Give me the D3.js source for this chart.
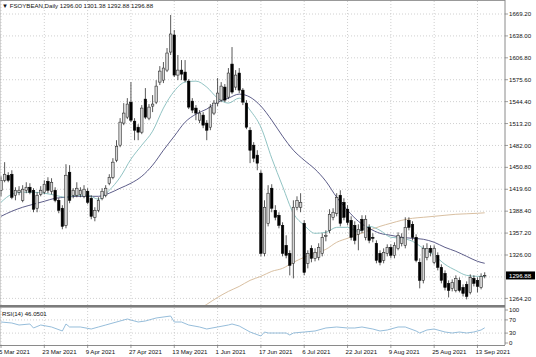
<!DOCTYPE html>
<html><head><meta charset="utf-8">
<script src="https://cdn.jsdelivr.net/npm/d3@7"></script>
<style>html,body{margin:0;padding:0;background:#fff;overflow:hidden}</style>
</head><body><svg id="c" width="536" height="357"></svg>
<script>
// ---------- DATA ----------
const symbol = "FSOYBEAN,Daily";
const lastOHLC = [1296.00, 1301.38, 1292.88, 1296.88];
const opens = [1418.2,1432.4,1439.6,1441.0,1411.1,1415.4,1403.9,1418.2,1422.5,1418.2,
1392.6,1412.5,1415.4,1431.0,1416.8,1418.2,1403.9,1392.6,1368.3,1443.9,
1411.1,1411.1,1412.5,1409.6,1416.8,1406.8,1379.7,1389.7,1406.8,1411.1,
1428.2,1436.7,1461.0,1482.4,1513.8,1522.3,1543.7,1516.6,1508.0,1500.9,
1548.0,1520.9,1538.0,1543.7,1572.2,1575.0,1589.3,1615.0,1639.3,1582.2,
1589.3,1586.5,1573.6,1545.1,1535.2,1518.0,1525.2,1513.8,1508.0,1528.1,
1542.3,1546.6,1565.1,1550.8,1597.9,1565.1,1585.1,1560.8,1542.3,1503.7,
1482.4,1468.2,1442.5,1328.4,1371.2,1421.1,1389.7,1382.6,1368.3,1339.8,
1328.4,1314.2,1394.0,1394.0,1371.2,1314.2,1335.5,1321.3,1322.7,1328.4,
1352.6,1361.1,1379.7,1385.4,1411.1,1401.1,1391.2,1375.4,1368.3,1355.5,
1376.9,1351.2,1365.4,1351.2,1342.7,1328.4,1318.4,1328.4,1336.9,1325.6,
1335.5,1342.7,1339.8,1375.4,1369.7,1351.2,1315.6,1289.9,1322.7,1335.5,
1315.6,1325.6,1308.4,1299.9,1285.6,1278.5,1275.6,1289.9,1279.9,1284.2,
1272.8,1292.7,1289.9,1279.9,1296.00];
const highs = [1438.1,1458.2,1443.9,1446.7,1422.5,1424.0,1425.4,1429.6,1428.2,1421.1,
1415.4,1424.0,1432.4,1436.7,1435.3,1422.5,1406.8,1396.9,1455.3,1453.9,
1421.1,1429.6,1422.5,1425.4,1421.1,1411.1,1394.0,1408.2,1421.1,1425.4,
1441.0,1463.9,1489.5,1520.9,1542.3,1549.4,1572.2,1520.9,1512.3,1539.5,
1563.7,1540.9,1553.7,1575.0,1595.0,1600.8,1620.7,1667.8,1646.4,1610.8,
1603.6,1603.6,1576.5,1549.4,1539.5,1532.3,1529.5,1518.0,1540.9,1546.6,
1577.9,1572.2,1569.4,1592.2,1622.1,1589.3,1592.2,1563.7,1546.6,1508.0,
1486.7,1475.2,1446.7,1403.9,1425.4,1426.8,1396.9,1386.9,1372.6,1354.1,
1332.7,1403.9,1409.6,1414.0,1375.4,1332.7,1339.8,1335.5,1342.7,1356.9,
1361.1,1391.2,1392.6,1414.0,1418.2,1406.8,1396.9,1381.1,1374.0,1369.7,
1382.6,1382.6,1369.7,1356.9,1346.9,1332.7,1335.5,1341.2,1341.2,1344.1,
1358.3,1356.9,1379.7,1379.7,1374.0,1355.5,1321.3,1339.8,1342.7,1339.8,
1339.8,1329.8,1312.7,1304.1,1289.9,1291.3,1297.0,1294.1,1284.2,1288.4,
1298.4,1297.0,1294.1,1299.9,1301.38];
const lows = [1409.6,1429.6,1429.6,1405.4,1403.9,1411.1,1401.1,1414.0,1412.5,1386.9,
1386.9,1409.6,1412.5,1414.0,1412.5,1401.1,1385.5,1362.6,1364.0,1399.7,
1406.8,1408.2,1408.2,1406.8,1398.3,1376.9,1374.0,1386.9,1403.9,1408.2,
1425.4,1433.9,1458.2,1479.5,1510.9,1519.5,1515.2,1489.5,1489.5,1498.1,
1519.5,1518.0,1529.5,1540.9,1568.0,1570.8,1586.5,1610.8,1579.4,1575.0,
1575.0,1572.2,1533.8,1528.1,1518.0,1513.8,1506.6,1489.5,1503.7,1525.2,
1538.0,1543.7,1543.7,1548.0,1555.1,1560.8,1556.6,1539.5,1505.2,1456.8,
1458.2,1446.7,1324.1,1324.1,1366.8,1386.9,1375.4,1364.0,1324.1,1321.3,
1297.0,1292.7,1389.7,1386.9,1297.0,1307.0,1315.6,1317.0,1318.4,1324.1,
1345.5,1356.9,1375.4,1381.1,1366.8,1375.4,1368.3,1346.9,1341.2,1332.7,
1356.9,1346.9,1342.7,1344.1,1314.2,1311.3,1314.2,1324.1,1321.3,1321.3,
1332.7,1338.3,1335.5,1361.1,1346.9,1315.6,1278.5,1285.6,1318.4,1324.1,
1312.7,1304.1,1285.6,1275.6,1265.6,1274.2,1272.8,1272.8,1267.0,1262.8,
1269.9,1281.3,1272.8,1277.1,1292.88];
const closes = [1432.4,1441.0,1432.4,1408.2,1418.2,1418.2,1419.7,1422.5,1415.4,1391.2,
1411.1,1418.2,1426.8,1418.2,1429.6,1403.9,1389.7,1366.8,1439.6,1403.9,
1418.2,1421.1,1418.2,1419.7,1401.1,1381.1,1389.7,1403.9,1416.8,1421.1,
1436.7,1458.2,1480.9,1515.2,1528.1,1540.9,1518.0,1503.7,1500.9,1535.2,
1522.3,1536.6,1540.9,1566.5,1587.9,1592.2,1613.6,1640.7,1582.2,1589.3,
1583.6,1575.0,1536.6,1532.3,1528.1,1528.1,1510.9,1503.7,1536.6,1542.3,
1556.6,1566.5,1546.6,1585.1,1558.0,1582.2,1560.8,1543.7,1508.0,1475.2,
1463.9,1456.8,1328.4,1394.0,1414.0,1392.6,1379.7,1368.3,1328.4,1325.6,
1311.3,1394.0,1403.9,1401.1,1301.3,1328.4,1321.3,1329.8,1336.9,1351.2,
1354.1,1384.0,1386.9,1408.2,1371.2,1379.7,1372.6,1351.2,1346.9,1362.6,
1361.1,1376.9,1346.9,1349.8,1318.4,1315.6,1329.8,1336.9,1325.6,1339.8,
1354.1,1351.2,1365.4,1365.4,1351.2,1318.4,1289.9,1335.5,1335.5,1329.8,
1335.5,1308.4,1289.9,1279.9,1275.6,1287.0,1292.7,1275.6,1271.4,1267.0,
1294.1,1285.6,1281.3,1295.5,1296.88];

const dateTickIdx = [0,12,24,36,48,60,72,84,96,108,120,132];
const dateTickLabels = ["5 Mar 2021","23 Mar 2021","9 Apr 2021","27 Apr 2021","13 May 2021","1 Jun 2021",
  "17 Jun 2021","6 Jul 2021","22 Jul 2021","9 Aug 2021","25 Aug 2021","13 Sep 2021"];
const priceTicks = [1669.20,1638.00,1606.80,1575.60,1544.40,1513.20,1482.00,1450.80,1419.60,1388.40,1357.20,1326.00,1264.20];
const rsiTicks = [100,70,30,0];
const rsiLevels = [70,30];

const maIdx = [0,3,6,9,12,15,18,21,24,27,30,33,36,39,42,45,48,51,54,57,60,63,66,69,72,75,78,81,84,87,90,93,96,99,102,105,108,111,114,117,120,123,126,129,132,134];
const maFast = [1401.1,1412.5,1415.4,1415.4,1414.0,1411.1,1408.2,1411.1,1411.1,1405.4,1418.2,1436.7,1462.5,1482.4,1502.3,1535.2,1559.4,1572.2,1573.6,1565.1,1549.4,1542.3,1549.4,1532.3,1508.0,1463.9,1424.0,1385.4,1368.3,1356.9,1358.3,1365.4,1365.4,1359.7,1366.8,1361.1,1351.2,1349.8,1345.5,1335.5,1325.6,1312.7,1304.1,1297.0,1295.6,1295.6];
const maSlow = [1381.1,1388.3,1394.0,1398.3,1402.5,1406.8,1408.2,1409.6,1409.6,1409.6,1414.0,1421.1,1428.2,1438.1,1453.9,1475.2,1495.2,1515.2,1526.6,1533.8,1543.7,1549.4,1555.1,1550.8,1538.0,1518.0,1495.2,1475.2,1461.0,1448.2,1431.0,1408.2,1389.7,1374.0,1364.0,1356.9,1354.1,1351.2,1349.8,1348.4,1344.1,1336.9,1331.2,1324.1,1317.0,1314.2];
const maLongIdx = [54,57,60,63,66,69,72,75,78,81,84,87,90,93,96,99,102,105,108,111,114,117,120,123,126,129,132,134];
const maLong = [1245.7,1255.7,1265.6,1274.2,1281.3,1289.9,1295.6,1302.7,1307.0,1315.6,1322.7,1328.4,1334.1,1344.1,1349.8,1355.5,1361.1,1366.8,1371.2,1375.4,1378.3,1379.7,1381.1,1382.6,1384.0,1384.7,1385.4,1386.1];

const rsiIdx = [0,3,5,8,9,11,14,17,18,19,22,25,27,29,33,35,38,40,43,47,48,50,52,55,57,60,63,64,66,69,72,73,74,76,79,80,81,84,87,90,93,96,98,100,103,105,107,110,112,115,116,118,120,123,125,127,129,131,133,134];
const rsiVals = [63.6,60.6,54.5,57.6,45.5,54.5,48.5,36.4,57.6,48.5,48.5,42.4,48.5,54.5,66.7,72.7,63.6,66.7,75.8,81.8,63.6,63.6,54.5,48.5,42.4,48.5,54.5,57.6,51.5,33.3,21.2,33.3,30.3,30.3,30.3,24.2,30.3,33.3,36.4,45.5,48.5,45.5,45.5,48.5,42.4,36.4,39.4,48.5,48.5,36.4,30.3,39.4,42.4,33.3,30.3,33.3,30.3,33.3,39.4,46.05];
const rsiLast = "46.0501";

// ---------- LAYOUT ----------
const svg = d3.select("#c");
const FONT = "Liberation Sans, Arial, sans-serif";
const axisX = 505, mainTop = 1, mainBot = 305, rsiTop = 308, rsiBot = 345;
const n = closes.length;

const x = d3.scaleLinear().domain([0, 134]).range([1, 484.7]);
const y = d3.scaleLinear().domain([1264.2, 1669.2]).range([298.4, 14]);
const yr = d3.scaleLinear().domain([0, 100]).range([343, 310]);

svg.append("rect").attr("width",536).attr("height",357).attr("fill","#fff");

const defs = svg.append("defs");
defs.append("clipPath").attr("id","mainClip").append("rect")
  .attr("x",0).attr("y",mainTop).attr("width",axisX).attr("height",mainBot-mainTop);
defs.append("clipPath").attr("id","rsiClip").append("rect")
  .attr("x",0).attr("y",rsiTop).attr("width",axisX).attr("height",rsiBot-rsiTop);

const gridColor = "#c4c4c4";
// vertical grid
const gGrid = svg.append("g");
dateTickIdx.forEach(i => {
  [[mainTop, mainBot],[rsiTop, rsiBot]].forEach(([a,b]) => {
    gGrid.append("line").attr("x1",x(i)).attr("x2",x(i)).attr("y1",a).attr("y2",b)
      .attr("stroke",gridColor).attr("stroke-width",0.8).attr("stroke-dasharray","1,2");
  });
});
// horizontal grid main
priceTicks.concat([1294.80]).forEach(p => {
  gGrid.append("line").attr("x1",0).attr("x2",axisX).attr("y1",y(p)).attr("y2",y(p))
    .attr("stroke",gridColor).attr("stroke-width",0.8).attr("stroke-dasharray","1,2");
});
rsiLevels.forEach(v => {
  gGrid.append("line").attr("x1",0).attr("x2",axisX).attr("y1",yr(v)).attr("y2",yr(v))
    .attr("stroke",gridColor).attr("stroke-width",0.8).attr("stroke-dasharray","1,2");
});

// moving averages
const gMain = svg.append("g").attr("clip-path","url(#mainClip)");
const line = d3.line().x(d=>x(d[0])).y(d=>y(d[1])).curve(d3.curveMonotoneX);
gMain.append("path").datum(maLongIdx.map((i,k)=>[i,maLong[k]])).attr("d",line)
  .attr("fill","none").attr("stroke","#d4b896").attr("stroke-width",0.9);
gMain.append("path").datum(maIdx.map((i,k)=>[i,maSlow[k]])).attr("d",line)
  .attr("fill","none").attr("stroke","#4b4b7c").attr("stroke-width",0.9);
gMain.append("path").datum(maIdx.map((i,k)=>[i,maFast[k]])).attr("d",line)
  .attr("fill","none").attr("stroke","#84bcbc").attr("stroke-width",0.9);

// candles
const bw = 2.5;
const bars = d3.range(n).map(i => ({i, o:opens[i], h:highs[i], l:lows[i], c:closes[i]}));
const gC = gMain.append("g");
gC.selectAll("line.w").data(bars).join("line")
  .attr("x1",d=>x(d.i)).attr("x2",d=>x(d.i)).attr("y1",d=>y(d.h)).attr("y2",d=>y(d.l))
  .attr("stroke","#111").attr("stroke-width",0.7);
gC.selectAll("rect.b").data(bars).join("rect")
  .attr("x",d=>x(d.i)-bw/2).attr("width",bw)
  .attr("y",d=>y(Math.max(d.o,d.c)))
  .attr("height",d=>Math.max(0.6, Math.abs(y(d.o)-y(d.c))))
  .attr("fill",d=> d.c>=d.o ? "#d6d6d6" : "#000")
  .attr("stroke",d=> d.c>=d.o ? "#222" : "#000").attr("stroke-width",0.55);

// RSI
const gR = svg.append("g").attr("clip-path","url(#rsiClip)");
const rline = d3.line().x(d=>x(d[0])).y(d=>yr(d[1]));
gR.append("path").datum(rsiIdx.map((i,k)=>[i,rsiVals[k]])).attr("d",rline)
  .attr("fill","none").attr("stroke","#8ab6d6").attr("stroke-width",0.9);

// frames
svg.append("line").attr("x1",0).attr("x2",axisX).attr("y1",0.5).attr("y2",0.5).attr("stroke","#999").attr("stroke-width",1);
svg.append("line").attr("x1",0.3).attr("x2",0.3).attr("y1",0).attr("y2",rsiBot).attr("stroke","#aaa").attr("stroke-width",0.6);
svg.append("line").attr("x1",axisX).attr("x2",axisX).attr("y1",0).attr("y2",rsiBot).attr("stroke","#8a8a8a").attr("stroke-width",1);
svg.append("rect").attr("x",0).attr("y",mainBot).attr("width",axisX).attr("height",2.6).attr("fill","#7c7c7c");
svg.append("line").attr("x1",0).attr("x2",axisX).attr("y1",rsiBot+0.5).attr("y2",rsiBot+0.5).attr("stroke","#8a8a8a").attr("stroke-width",1);

// price axis
const gA = svg.append("g").attr("font-family",FONT).attr("font-size",6.1).attr("fill","#111");
priceTicks.forEach(p => {
  gA.append("line").attr("x1",axisX).attr("x2",axisX+3).attr("y1",y(p)).attr("y2",y(p)).attr("stroke","#777").attr("stroke-width",0.7);
  gA.append("text").attr("x",axisX+4).attr("y",y(p)+2.1).text(d3.format(".2f")(p));
});
// current price box
const cp = lastOHLC[3];
svg.append("rect").attr("x",axisX+1).attr("y",y(cp)-4).attr("width",29).attr("height",8).attr("fill","#000");
svg.append("text").attr("x",axisX+4).attr("y",y(cp)+2.2).attr("font-family",FONT).attr("font-size",6.1)
  .attr("fill","#fff").text(d3.format(".2f")(cp));

// RSI axis
rsiTicks.forEach(v => {
  gA.append("line").attr("x1",axisX).attr("x2",axisX+3).attr("y1",yr(v)).attr("y2",yr(v)).attr("stroke","#777").attr("stroke-width",0.7);
  gA.append("text").attr("x",axisX+4).attr("y",yr(v)+2.1).text(v);
});

// date axis
dateTickIdx.forEach((i,k) => {
  gA.append("line").attr("x1",x(i)).attr("x2",x(i)).attr("y1",rsiBot).attr("y2",rsiBot+3).attr("stroke","#777").attr("stroke-width",0.7);
  gA.append("text").attr("x",x(i)-2).attr("y",354).text(dateTickLabels[k]);
});

// titles
svg.append("text").attr("x",2).attr("y",8).attr("font-family",FONT).attr("font-size",6.1).attr("fill","#111")
  .text("\u25BC " + symbol + "  " + lastOHLC.map(v=>d3.format(".2f")(v)).join(" "));
svg.append("text").attr("x",2).attr("y",315.5).attr("font-family",FONT).attr("font-size",6.1).attr("fill","#111")
  .text("RSI(14) " + rsiLast);
</script>
</body></html>
